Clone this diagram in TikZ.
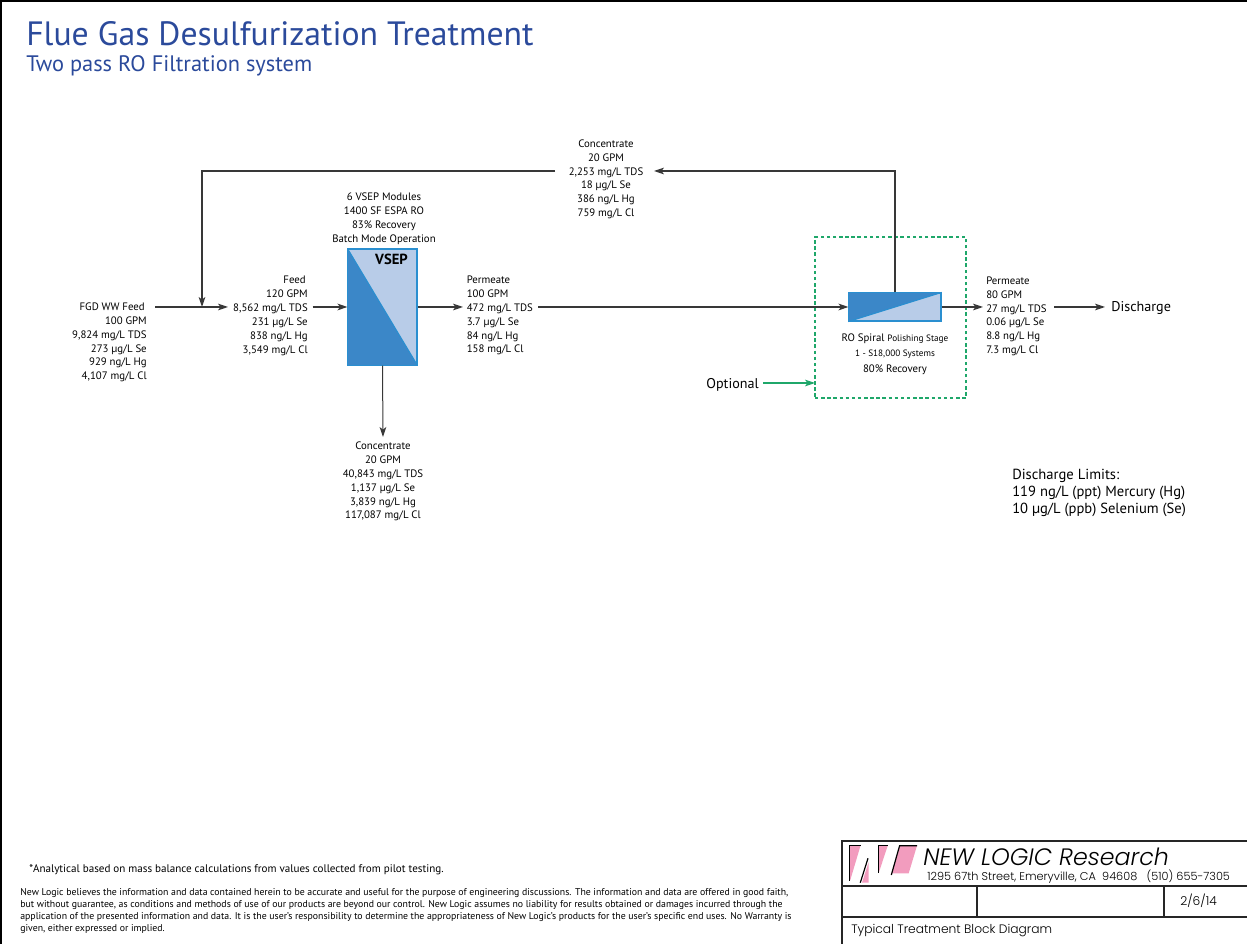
\documentclass[tikz,border=0pt]{standalone}
\usepackage{fontspec}
\setmainfont{PT Sans}
\newfontfamily\logofont{Poppins Light}[ItalicFont={Poppins Light Italic}]
\usetikzlibrary{arrows.meta}
\definecolor{titleblue}{HTML}{2B4A9B}
\definecolor{boxdark}{HTML}{3B87C8}
\definecolor{boxlight}{HTML}{B8CCE8}
\definecolor{boxedge}{HTML}{2A8FD0}
\definecolor{optgreen}{HTML}{1FA76A}
\definecolor{logopink}{HTML}{F29CBE}
\definecolor{flow}{HTML}{383838}
\tikzset{
  x=0.75pt,y=-0.75pt,
  lbl/.style={inner sep=0pt,font=\fontsize{8.1}{10.35}\selectfont,text depth=0pt},
  lblr/.style={lbl,anchor=north east,align=right},
  lbll/.style={lbl,anchor=north west,align=left},
  lblc/.style={lbl,anchor=north,align=center},
  big/.style={inner sep=0pt,font=\fontsize{10.6}{13}\selectfont},
  flowline/.style={draw=flow,line width=0.9pt,-{Stealth[length=7.5pt,width=5pt,inset=2pt]}},
  unitbox/.style={draw=boxedge,line width=0.8pt,inner sep=0pt,fill=boxlight},
  frameline/.style={draw=black!85,line width=0.9pt},
  blocktext/.style={inner sep=0pt,anchor=west},
}
\begin{document}
\begin{tikzpicture}
\useasboundingbox (0,0) rectangle (1247,944);
% page border
\draw[black,line width=2pt] (1,944) -- (1,1) -- (1247,1);
% title
\node[inner sep=0pt,anchor=west,text=titleblue,font=\fontsize{25.3}{28}\selectfont] (title) at (26,33.5) {Flue Gas Desulfurization Treatment};
\node[inner sep=0pt,anchor=west,text=titleblue,font=\fontsize{16.8}{18}\selectfont] (subtitle) at (26,65.5) {Two pass RO Filtration system};
% units
\node[unitbox,minimum width=51.75pt,minimum height=87pt] (vsep) at (382.5,307) {};
\fill[boxdark] (vsep.north west) -- (vsep.south east) -- (vsep.south west) -- cycle;
\draw[boxedge,line width=0.8pt] (vsep.north west) -- (vsep.south east);
\draw[boxedge,line width=0.8pt] (vsep.north west) rectangle (vsep.south east);
\node[inner sep=0pt,font=\fontsize{11}{13}\selectfont\bfseries] (vseplabel) at (391.5,259) {VSEP};
\node[unitbox,minimum width=69pt,minimum height=21pt] (ro) at (895,307) {};
\fill[boxdark] (ro.north west) -- (ro.north east) -- (ro.south west) -- cycle;
\draw[boxedge,line width=0.8pt] (ro.south west) -- (ro.north east);
\draw[boxedge,line width=0.8pt] (ro.north west) rectangle (ro.south east);
% optional frame
\node[draw=optgreen,dash pattern=on 2.6pt off 2pt,line width=0.95pt,inner sep=0pt,minimum width=113.25pt,minimum height=120.75pt] (optbox) at (890.5,317.5) {};
% labels
\node[lblr] (fgdhead) at (145,302.5) {FGD WW Feed};
\node[lblr] (fgd) at (147,316.5) {100 GPM\\9,824 mg/L TDS\\273 µg/L Se\\929 ng/L Hg\\4,107 mg/L Cl};
\node[lblr] (feedhead) at (306,276) {Feed};
\node[lblr] (feed) at (308,290) {120 GPM\\8,562 mg/L TDS\\231 µg/L Se\\838 ng/L Hg\\3,549 mg/L Cl};
\node[lblc] (vsepinfo) at (384,193) {6 VSEP Modules\\1400 SF ESPA RO\\83\% Recovery\\Batch Mode Operation};
\node[lbll] (perm1) at (466.5,276) {Permeate\\100 GPM\\472 mg/L TDS\\3.7 µg/L Se\\84 ng/L Hg\\158 mg/L Cl};
\node[lblc] (conc1) at (383,442) {Concentrate\\20 GPM\\40,843 mg/L TDS\\1,137 µg/L Se\\3,839 ng/L Hg\\117,087 mg/L Cl};
\node[lblc] (conc2) at (606,139.5) {Concentrate\\20 GPM\\2,253 mg/L TDS\\18 µg/L Se\\386 ng/L Hg\\759 mg/L Cl};
\node[lbll] (perm2) at (986,276.5) {Permeate\\80 GPM\\27 mg/L TDS\\0.06 µg/L Se\\8.8 ng/L Hg\\7.3 mg/L Cl};
\node[inner sep=0pt,anchor=north,align=center] (roinfo) at (895,333.5) {%
  {\fontsize{8.1}{10}\selectfont RO Spiral {\fontsize{6.9}{10}\selectfont Polishing Stage}}\\[-0.6pt]
  {\fontsize{6.9}{9.5}\selectfont 1 - S18,000 Systems}\\[-0.2pt]
  {\fontsize{8.1}{10}\selectfont 80\% Recovery}};
\node[big,anchor=west] (discharge) at (1111,308) {Discharge};
\node[big,anchor=east] (optional) at (759,384.5) {Optional};
\node[inner sep=0pt,anchor=north west,align=left,font=\fontsize{10.95}{12.8}\selectfont] (limits) at (1012,469) {Discharge Limits:\\119 ng/L (ppt) Mercury (Hg)\\10 µg/L (ppb) Selenium (Se)};
% connector end points
\coordinate (a1) at (155,307);
\coordinate (a2) at (228,307);
\coordinate (a3) at (312.5,307);
\coordinate (a4) at (463,307);
\coordinate (a5) at (538,307);
\coordinate (a6) at (983,307);
\coordinate (a7) at (1054,307);
\coordinate (a8) at (1105,307);
\coordinate (b1) at (895,171);
\coordinate (b2) at (654,171);
\coordinate (b3) at (555,171);
\coordinate (b4) at (202,171);
\coordinate (b5) at (202,307);
\coordinate (c1) at (383,437);
\coordinate (d1) at (763,383);
\coordinate (d2) at (815,383);
% connectors
\draw[flowline] (a1) -- (a2);
\draw[flowline] (a3) -- (vsep.west);
\draw[flowline] (vsep.east) -- (a4);
\draw[flowline] (a5) -- (ro.west);
\draw[flowline] (ro.east) -- (a6);
\draw[flowline] (a7) -- (a8);
\draw[flowline] (ro.north) -- (b1) -- (b2);
\draw[flowline] (b3) -- (b4) -- (b5);
\draw[flowline,line width=0.75pt] (vsep.south) -- (c1);
\draw[draw=optgreen,line width=0.85pt,-{Stealth[length=7.5pt,width=5pt,inset=2pt]}] (d1) -- (d2);
% footer
\node[inner sep=0pt,anchor=west,font=\fontsize{8.3}{9}\selectfont] (note) at (29,870) {*Analytical based on mass balance calculations from values collected from pilot testing.};
\node[inner sep=0pt,anchor=north west,align=left,font=\fontsize{7.36}{9.1}\selectfont] (legal) at (20,888) {New Logic believes the information and data contained herein to be accurate and useful for the purpose of engineering discussions. The information and data are offered in good faith,\\but without guarantee, as conditions and methods of use of our products are beyond our control. New Logic assumes no liability for results obtained or damages incurred through the\\application of the presented information and data. It is the user's responsibility to determine the appropriateness of New Logic's products for the user's specific end uses. No Warranty is\\given, either expressed or implied.};
% title block
\draw[frameline] (842,944) -- (842,841) -- (1247,841);
\draw[frameline] (842,886) -- (1247,886);
\draw[frameline] (842,917) -- (1247,917);
\draw[frameline] (977,886) -- (977,917);
\draw[frameline] (1164,886) -- (1164,917);
% logo
\fill[logopink] (849.3,845.7) -- (860.5,845.7) -- (850.3,880) -- (849.3,880) -- cycle;
\draw[black,line width=0.8pt] (860.5,845.7) -- (849.3,845.7) -- (849.3,881);
\fill[logopink] (868.7,862) -- (868.7,882.7) -- (862,882.7) -- cycle;
\draw[black,line width=0.9pt] (868,858.3) -- (860.3,882.7);
\fill[logopink] (878.7,845.7) -- (887.7,845.7) -- (878.7,873) -- cycle;
\draw[black,line width=0.8pt] (887.7,845.7) -- (878.7,845.7) -- (878.7,873);
\fill[logopink] (900,845.7) -- (917,845.7) -- (908.7,873.3) -- (892,873.3) -- cycle;
\draw[black,line width=0.9pt] (917,845.7) -- (899.6,845.7) -- (891.3,875);
\node[blocktext,font=\logofont\itshape\fontsize{17.8}{20}\selectfont] (brand) at (923,857) {NEW LOGIC Research};
\node[blocktext,font=\logofont\fontsize{8.48}{10}\selectfont] (address) at (927,877) {1295 67th Street, Emeryville, CA\ \ 94608\ \ \ (510) 655-7305};
\node[blocktext,font=\logofont\fontsize{9.2}{11}\selectfont] (date) at (1180,901) {2/6/14};
\node[blocktext,font=\logofont\fontsize{9.2}{11}\selectfont] (doctitle) at (851,931) {Typical Treatment Block Diagram};
\end{tikzpicture}
\end{document}
